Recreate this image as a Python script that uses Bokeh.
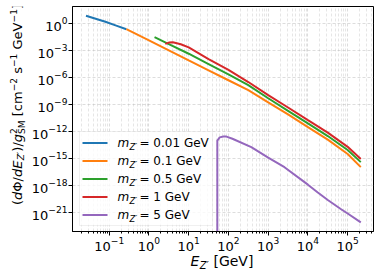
import math
from bokeh.plotting import figure
from bokeh.layouts import column, row
from bokeh.models import Range1d, FixedTicker, Label, LogTickFormatter, BoxAnnotation
from bokeh.embed import file_html
from bokeh.resources import INLINE

# ---------------- data ----------------
legend_values = ["= 0.01 GeV", "= 0.1 GeV", "= 0.5 GeV", "= 1 GeV", "= 5 GeV"]
colors = ["#1f77b4", "#ff7f0e", "#2ca02c", "#d62728", "#9467bd"]

E_m001 = [0.026, 0.05, 0.08, 0.15, 0.27]
flux_m001 = [7.2, 2.95, 1.55, 0.59, 0.234]

E_m01 = [0.27, 1.0, 3.16, 10, 31.6, 100, 316, 1000, 3160, 1e4, 3.16e4, 1e5, 2.14e5]
flux_m01 = [0.234, 1.32e-2, 1.05e-3, 7.9e-5, 6.3e-6, 5.0e-7, 4.0e-8, 1.78e-9,
            7.9e-11, 3.16e-12, 1.26e-13, 3.16e-15, 1.12e-16]

E_m05 = [1.38, 3.16, 10, 31.6, 100, 316, 1000, 3160, 1e4, 3.16e4, 1e5, 2.14e5]
flux_m05 = [3.0e-2, 5.1e-3, 4.4e-4, 3.16e-5, 2.24e-6, 1.41e-7, 5.0e-9, 2.0e-10,
            7.9e-12, 3.16e-13, 8.9e-15, 4.0e-16]

E_m1 = [2.57, 3.16, 3.98, 6.31, 10, 31.6, 100, 316, 1000, 3160, 1e4, 3.16e4, 1e5, 2.14e5]
flux_m1 = [5.5e-3, 7.6e-3, 8.3e-3, 5.0e-3, 2.24e-3, 1.12e-4, 7.1e-6, 3.16e-7,
           1.12e-8, 4.7e-10, 1.86e-11, 7.6e-13, 2.0e-14, 8.9e-16]

E_m5 = [52.5, 52.5, 60.3, 74.1, 89.1, 126, 376, 1000, 2570, 1e4, 1.74e4, 3.16e4,
        6.7e4, 1e5, 2.14e5]
flux_m5 = [1e-30, 1e-13, 2.24e-13, 2.8e-13, 2.75e-13, 1.58e-13, 1.82e-14, 1.26e-15,
           1.1e-16, 1.26e-18, 1.82e-19, 2.5e-20, 2.5e-21, 7.9e-22, 8.3e-23]

x_ticks = [1e-1, 1e0, 1e1, 1e2, 1e3, 1e4, 1e5]
y_ticks = [1e-21, 1e-18, 1e-15, 1e-12, 1e-9, 1e-6, 1e-3, 1e0]

series = [(E_m001, flux_m001), (E_m01, flux_m01), (E_m05, flux_m05),
          (E_m1, flux_m1), (E_m5, flux_m5)]

# ---------------- layout sizes ----------------
FONT = "DejaVu Sans"
TOTAL_W, TOTAL_H = 380, 275
YLAB_W = 28
MAIN_W = TOTAL_W - YLAB_W
BL, BR, BT, BB = 42, 7, 6, 22
MAIN_H = 231 + BB
XLAB_H = TOTAL_H - MAIN_H

p = figure(width=MAIN_W, height=MAIN_H, x_axis_type="log", y_axis_type="log",
           x_range=Range1d(0.0119, 4.47e5), y_range=Range1d(7.9e-24, 77.6),
           output_backend="svg", toolbar_location=None, title_location=None,
           min_border_left=BL, min_border_right=BR, min_border_top=BT,
           min_border_bottom=BB)
p.background_fill_color = "white"
p.border_fill_color = "white"
p.outline_line_color = "black"
p.outline_line_width = 1

x_minor = [m * 10.0 ** k for k in range(-2, 6) for m in range(2, 10)]
xt = FixedTicker(ticks=x_ticks, minor_ticks=x_minor)
yt = FixedTicker(ticks=y_ticks)
p.xaxis.ticker = xt
p.yaxis.ticker = yt
p.xgrid.ticker = xt
p.ygrid.ticker = yt
for ax in (p.xaxis, p.yaxis):
    ax.formatter = LogTickFormatter()
    ax.major_label_text_font = FONT
    ax.major_label_text_font_size = "13px"
    ax.major_label_text_color = "black"
    ax.major_tick_in = 0
    ax.major_tick_out = 4
    ax.minor_tick_in = 0
    ax.minor_tick_out = 2
    ax.major_label_standoff = 1
    ax.axis_line_color = "black"
    ax.major_tick_line_color = "black"
p.yaxis.minor_tick_line_color = None
p.xaxis.minor_tick_line_color = "black"

for g in (p.xgrid, p.ygrid):
    g.grid_line_color = "#b0b0b0"
    g.grid_line_alpha = 0.55
    g.grid_line_dash = "3 2"
    g.grid_line_width = 0.8
p.xgrid.minor_grid_line_color = "#b0b0b0"
p.xgrid.minor_grid_line_alpha = 0.4
p.xgrid.minor_grid_line_dash = "3 2"
p.xgrid.minor_grid_line_width = 0.8

for (E, F), c in zip(series, colors):
    p.line(E, F, line_color=c, line_width=2)

# ---------------- legend (frame-relative screen positions) ----------------
LEG_L, LEG_R, LEG_B, LEG_T = 7, 140, 6, 100
p.add_layout(BoxAnnotation(left=LEG_L, right=LEG_R, bottom=LEG_B, top=LEG_T,
                           left_units="screen", right_units="screen",
                           bottom_units="screen", top_units="screen",
                           fill_color="white", fill_alpha=0.8,
                           line_color="#cccccc", line_width=1, level="annotation"))
for i, (txt, c) in enumerate(zip(legend_values, colors)):
    yc = LEG_T - 4 - 7.5 - 18 * i
    p.add_layout(BoxAnnotation(left=LEG_L + 3, right=LEG_L + 28, bottom=yc - 1, top=yc + 1,
                               left_units="screen", right_units="screen",
                               bottom_units="screen", top_units="screen",
                               fill_color=c, fill_alpha=1, line_color=None,
                               level="annotation"))
    p.add_layout(Label(x=45, y=yc, x_units="screen", y_units="screen", text="m",
                       text_font=FONT, text_font_size="12px", text_font_style="italic",
                       text_color="black", text_baseline="middle", level="annotation"))
    p.add_layout(Label(x=57, y=yc - 3.5, x_units="screen", y_units="screen", text="Z′",
                       text_font=FONT, text_font_size="8.4px", text_font_style="italic",
                       text_color="black", text_baseline="middle", level="annotation"))
    p.add_layout(Label(x=67, y=yc, x_units="screen", y_units="screen", text=txt,
                       text_font=FONT, text_font_size="12px",
                       text_color="black", text_baseline="middle", level="annotation"))

# ---------------- composed axis titles (hosted in small text panels) ----------------
def text_panel(w, h):
    f = figure(width=w, height=h, x_range=Range1d(0, 1), y_range=Range1d(0, 1),
               output_backend="svg", toolbar_location=None, title_location=None,
               min_border=0, x_axis_location=None, y_axis_location=None)
    f.outline_line_color = None
    f.grid.visible = False
    f.background_fill_color = "white"
    f.border_fill_color = "white"
    return f


ylab = text_panel(YLAB_W, MAIN_H)
xlab = text_panel(TOTAL_W, XLAB_H)

ADV = {' ': 0.318, '(': 0.390, ')': 0.390, '/': 0.337, '[': 0.390, ']': 0.390,
       'c': 0.550, 'm': 0.974, 's': 0.521, 'G': 0.775, 'e': 0.615, 'V': 0.684,
       'd': 0.635, 'g': 0.635, 'E': 0.632, 'Z': 0.685, 'S': 0.635, 'M': 0.863,
       'Φ': 0.790, '′': 0.290, '−': 0.838, '=': 0.838, '.': 0.318,
       '0': 0.636, '1': 0.636, '2': 0.636, '5': 0.636}
MID = 0.32  # height of the text middle above the baseline, in font sizes


def width(s, size):
    return sum(ADV.get(ch, 0.6) for ch in s) * size


def compose(fig, pieces, base, center, baseline, vertical):
    total = sum(width(t, base * sc) for t, sc, it, sh, adv in pieces if adv)
    cur = center - total / 2
    for text, sc, it, sh, adv in pieces:
        size = base * sc
        w = width(text.strip() if text.startswith(" ") else text, size)
        lead = width(" ", size) if text.startswith(" ") else 0
        up = sh * base + MID * size
        along = cur + lead + w / 2
        if vertical:
            kw = dict(x=baseline - up, y=along, angle=math.pi / 2)
        else:
            kw = dict(x=along, y=baseline + up)
        fig.add_layout(Label(x_units="screen", y_units="screen", text=text.strip(),
                             text_font=FONT, text_font_size=f"{size:.1f}px",
                             text_font_style="italic" if it else "normal",
                             text_color="black", text_baseline="middle",
                             text_align="center", **kw))
        if adv:
            cur += lead + w


SUB, SUP = -0.22, 0.42
ylabel_pieces = [("(", 1, False, 0, True), ("d", 1, True, 0, True), ("Φ", 1, False, 0, True),
                 ("/", 1, False, 0, True), ("d", 1, True, 0, True), ("E", 1, True, 0, True),
                 ("Z′", 0.7, True, SUB, True), (")/", 1, False, 0, True),
                 ("g", 1, True, 0, True), ("2", 0.7, False, SUP, False),
                 ("SM", 0.7, False, SUB - 0.05, True), (" [cm", 1, False, 0, True),
                 ("−2", 0.7, False, SUP, True), (" s", 1, False, 0, True),
                 ("−1", 0.7, False, SUP, True), (" GeV", 1, False, 0, True),
                 ("−1", 0.7, False, SUP, True), ("]", 1, False, 0, True)]
xlabel_pieces = [("E", 1, True, 0, True), ("Z′", 0.7, True, SUB, True),
                 (" [GeV]", 1, False, 0, True)]

frame_mid_y = MAIN_H - 126                      # from bottom of the label panel
frame_mid_x = YLAB_W + BL + (MAIN_W - BL - BR) / 2
compose(ylab, ylabel_pieces, 13, frame_mid_y, 21, True)
compose(xlab, xlabel_pieces, 14, frame_mid_x, 275 - 265, False)

layout = column(row(ylab, p), xlab)
open("out.html", "w").write(file_html(layout, INLINE))
